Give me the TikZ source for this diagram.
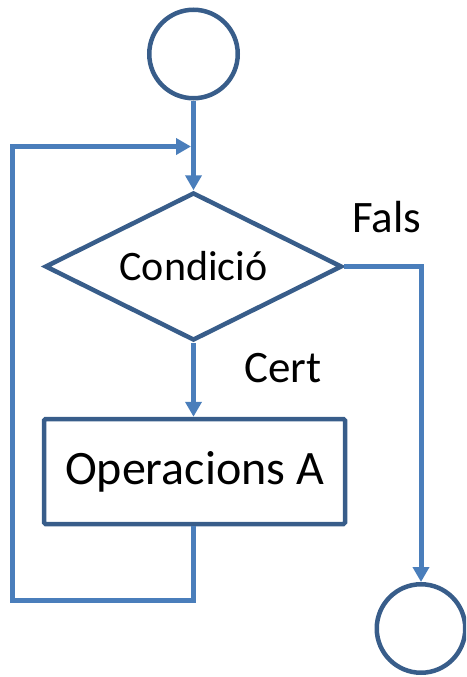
\documentclass[tikz,border=0pt]{standalone}
\usepackage{fontspec}
\setmainfont{Carlito}
\usetikzlibrary{shapes.geometric,arrows.meta}
\definecolor{shapeline}{HTML}{385D8A}
\definecolor{connline}{HTML}{4A7EBB}
\tikzset{
  terminal/.style={circle,draw=shapeline,line width=4.5pt,minimum size=88.5pt,inner sep=0pt},
  decision/.style={diamond,shape aspect=2,draw=shapeline,line width=4.5pt,minimum width=297pt,minimum height=148pt,inner sep=0pt,font=\fontsize{42}{50}\selectfont},
  process/.style={rectangle,rounded corners=1.5pt,draw=shapeline,line width=4.5pt,minimum width=301pt,minimum height=105pt,inner sep=0pt,font=\fontsize{48}{56}\selectfont},
  conn/.style={draw=connline,line width=5pt},
  flowarrow/.style={-{Triangle[length=15pt,width=16pt]}},
  branchlabel/.style={anchor=base west,inner sep=0pt,font=\fontsize{45}{52}\selectfont}
}
\begin{document}
\begin{tikzpicture}[x=1pt,y=-1pt]
  \clip (0,0) rectangle (466,677);
  % shapes
  \node[terminal] (start) at (193.5,54) {};
  \node[decision] (cond) at (193.5,266.5) {Condició};
  \node[process] (ops) at (194.5,471.5) {Operacions A};
  \node[terminal] (stop) at (421,628.5) {};
  % branch labels
  \node[branchlabel] (fals) at (352,232) {Fals};
  \node[branchlabel] (cert) at (244,382) {Cert};
  % loop route
  \coordinate (loopbot) at (12.5,600);
  \coordinate (looptop) at (12.5,146.5);
  \coordinate (join) at (191,146.5);
  % connectors
  \draw[conn,flowarrow] (start) -- (cond);
  \draw[conn,flowarrow] (cond.south) -- (cond.south |- ops.north);
  \draw[conn,flowarrow] (ops.south -| cond.south) -- (cond.south |- loopbot) -- (loopbot) -- (looptop) -- (join);
  \draw[conn,flowarrow] (cond.east) -- (cond.east -| stop.north) -- (stop.north);
\end{tikzpicture}
\end{document}
